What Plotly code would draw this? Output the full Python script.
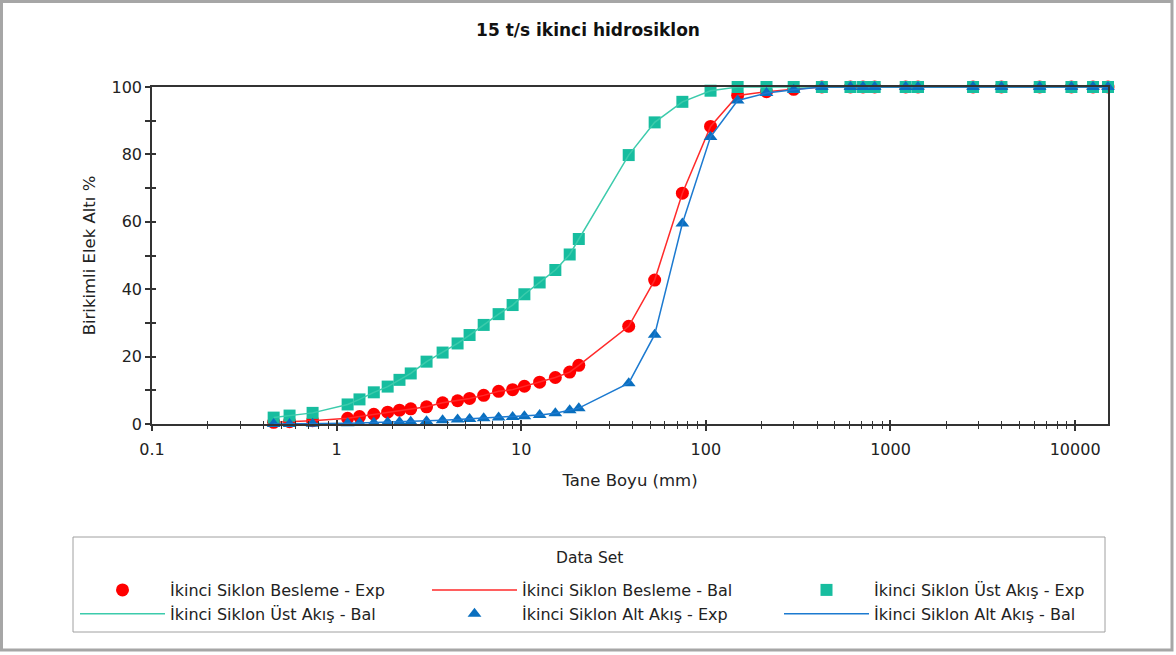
import math
import plotly.graph_objects as go

# ---------------- data ----------------
sizes = [0.456, 0.556, 0.741, 1.147, 1.33, 1.59, 1.89, 2.19, 2.52, 3.07,
         3.75, 4.52, 5.25, 6.26, 7.54, 8.98, 10.4, 12.58, 15.3, 18.3,
         20.5, 38.2, 52.8, 74.6, 106, 148.6, 213, 299, 425, 607,
         710, 821, 1209, 1409, 2800, 3990, 6430, 9550, 12500, 15070]

besleme_exp = [0.5, 0.7, 1.0, 1.7, 2.2, 2.9, 3.5, 4.1, 4.5, 5.1,
               6.3, 6.9, 7.6, 8.5, 9.7, 10.2, 11.2, 12.4, 13.8, 15.4,
               17.4, 29.0, 42.7, 68.5, 88.3, 97.5, 98.6, 99.3, 100, 100,
               100, 100, 100, 100, 100, 100, 100, 100, 100, 100]
besleme_bal = list(besleme_exp)

ust_exp = [1.9, 2.5, 3.3, 5.8, 7.3, 9.4, 11.1, 13.1, 15.0, 18.5,
           21.2, 23.9, 26.4, 29.4, 32.6, 35.3, 38.5, 42.0, 45.7, 50.3,
           54.9, 79.8, 89.5, 95.6, 98.9, 100, 100, 100, 100, 100,
           100, 100, 100, 100, 100, 100, 100, 100, 100, 100]
ust_bal = list(ust_exp)

alt_exp = [0.0, 0.0, 0.1, 0.2, 0.3, 0.4, 0.5, 0.6, 0.7, 0.8,
           1.1, 1.3, 1.5, 1.7, 1.9, 2.1, 2.3, 2.7, 3.2, 4.1,
           4.7, 12.1, 26.5, 59.5, 85.2, 96.0, 98.2, 99.2, 100, 100,
           100, 100, 100, 100, 100, 100, 100, 100, 100, 100]
alt_bal = list(alt_exp)

x_tickvals = [0.1, 1, 10, 100, 1000, 10000]
x_ticktext = ["0.1", "1", "10", "100", "1000", "10000"]
y_tickvals = [0, 20, 40, 60, 80, 100]

title_text = "15 t/s ikinci hidrosiklon"
x_title = "Tane Boyu (mm)"
y_title = "Birikimli Elek Altı %"
legend_title = "Data Set"
names = ["İkinci Siklon Besleme - Exp", "İkinci Siklon Besleme - Bal",
         "İkinci Siklon Üst Akış - Exp", "İkinci Siklon Üst Akış - Bal",
         "İkinci Siklon Alt Akış - Exp", "İkinci Siklon Alt Akış - Bal"]

# ---------------- layout geometry ----------------
W, H = 1176, 655
L, R, T, B = 152, 68, 87, 231
PW, PH = W - L - R, H - T - B
FONT = "DejaVu Sans"


def xp(px):
    return (px - L) / PW


def yp(py):
    return (H - B - py) / PH


x_range = [-1, math.log10(15070)]
minor_vals = [k * 10 ** d for d in range(-1, 5) for k in range(2, 10)
              if k * 10 ** d < 15070]

RED, TEAL, BLUE = "#ff0000", "#17bd9f", "#0a6fbf"
RED_L, TEAL_L, BLUE_L = "#ff2a2a", "#3ccbac", "#1c7ad0"

fig = go.Figure()
fig.add_trace(go.Scatter(x=sizes, y=besleme_exp, mode="markers", name=names[0],
                         marker=dict(symbol="circle", size=13, color=RED),
                         cliponaxis=False))
fig.add_trace(go.Scatter(x=sizes, y=besleme_bal, mode="lines", name=names[1],
                         line=dict(color=RED_L, width=1.5), cliponaxis=False))
fig.add_trace(go.Scatter(x=sizes, y=ust_exp, mode="markers", name=names[2],
                         marker=dict(symbol="square", size=12, color=TEAL),
                         cliponaxis=False))
fig.add_trace(go.Scatter(x=sizes, y=ust_bal, mode="lines", name=names[3],
                         line=dict(color=TEAL_L, width=1.5), cliponaxis=False))
fig.add_trace(go.Scatter(x=sizes, y=alt_exp, mode="markers", name=names[4],
                         marker=dict(symbol="triangle-up", size=12, color=BLUE),
                         cliponaxis=False))
fig.add_trace(go.Scatter(x=sizes, y=alt_bal, mode="lines", name=names[5],
                         line=dict(color=BLUE_L, width=1.5), cliponaxis=False))
# empty helper trace so the overlay tick axes are drawn
fig.add_trace(go.Scatter(x=[], y=[], xaxis="x2", yaxis="y2", showlegend=False,
                         hoverinfo="skip"))

tick_font = dict(family=FONT, size=16, color="#222222")
title_font = dict(family=FONT, size=16.5, color="#222222")

fig.update_layout(
    width=W, height=H,
    margin=dict(l=L, r=R, t=T, b=B, autoexpand=False),
    paper_bgcolor="white", plot_bgcolor="white",
    font=dict(family=FONT, size=14, color="#222222"),
    title=dict(text="<b>" + title_text + "</b>", x=0.5, xref="container",
               xanchor="center", y=1 - 30 / H, yref="container", yanchor="middle",
               font=dict(family=FONT, size=17, color="#111111")),
    xaxis=dict(type="log", range=x_range, showline=True, mirror=True,
               linecolor="#333333", linewidth=1.5, showgrid=False, zeroline=False,
               ticks="outside", ticklen=5, tickcolor="#333333", tickwidth=1.5,
               tickmode="array", tickvals=x_tickvals, ticktext=x_ticktext,
               ticklabelstandoff=5, tickfont=tick_font,
               minor=dict(tickmode="array", tickvals=minor_vals, ticks="outside",
                          ticklen=3, tickcolor="#333333", tickwidth=1.2, showgrid=False),
               title=dict(text=x_title, font=title_font, standoff=16)),
    yaxis=dict(range=[0, 100], showline=True, mirror=True, linecolor="#333333",
               linewidth=1.5, showgrid=False, zeroline=False,
               ticks="outside", ticklen=5, tickcolor="#333333", tickwidth=1.5,
               tickmode="array", tickvals=y_tickvals, tickfont=tick_font,
               minor=dict(tickmode="linear", tick0=0, dtick=10, ticks="outside",
                          ticklen=5, tickcolor="#333333", tickwidth=1.5, showgrid=False),
               title=dict(text=y_title, font=title_font, standoff=12)),
    xaxis2=dict(type="log", range=x_range, overlaying="x", anchor="y", side="bottom",
                showline=False, showgrid=False, zeroline=False, showticklabels=False,
                ticks="inside", ticklen=4, tickcolor="#333333", tickwidth=1.5,
                tickmode="array", tickvals=x_tickvals,
                minor=dict(tickmode="array", tickvals=minor_vals, ticks="inside",
                           ticklen=3, tickcolor="#333333", tickwidth=1.2, showgrid=False)),
    yaxis2=dict(range=[0, 100], overlaying="y", anchor="x", side="left",
                showline=False, showgrid=False, zeroline=False, showticklabels=False,
                ticks="inside", ticklen=4, tickcolor="#333333", tickwidth=1.5,
                tickmode="linear", tick0=0, dtick=10),
    showlegend=True,
    legend=dict(orientation="h", x=xp(75), xanchor="left", y=yp(573), yanchor="top",
                entrywidth=252, entrywidthmode="pixels", itemwidth=85,
                bgcolor="rgba(0,0,0,0)", borderwidth=0,
                font=dict(family=FONT, size=16, color="#222222"),
                itemsizing="trace", traceorder="normal"),
    annotations=[dict(text=legend_title, xref="paper", yref="paper",
                      x=xp(589), y=yp(558), xanchor="center", yanchor="middle",
                      showarrow=False, font=dict(family=FONT, size=15.5, color="#222222"))],
    shapes=[
        dict(type="rect", xref="paper", yref="paper", x0=xp(1.5), x1=xp(1172),
             y0=yp(1.5), y1=yp(650), line=dict(color="#a6a6a6", width=3),
             fillcolor="rgba(0,0,0,0)", layer="above"),
        dict(type="rect", xref="paper", yref="paper", x0=xp(73), x1=xp(1105),
             y0=yp(537), y1=yp(632), line=dict(color="#a0a0a0", width=1),
             fillcolor="rgba(0,0,0,0)", layer="below"),
    ],
)

fig.write_html("out.html", config={"displayModeBar": False},
               post_script="document.body.style.margin='0';")
